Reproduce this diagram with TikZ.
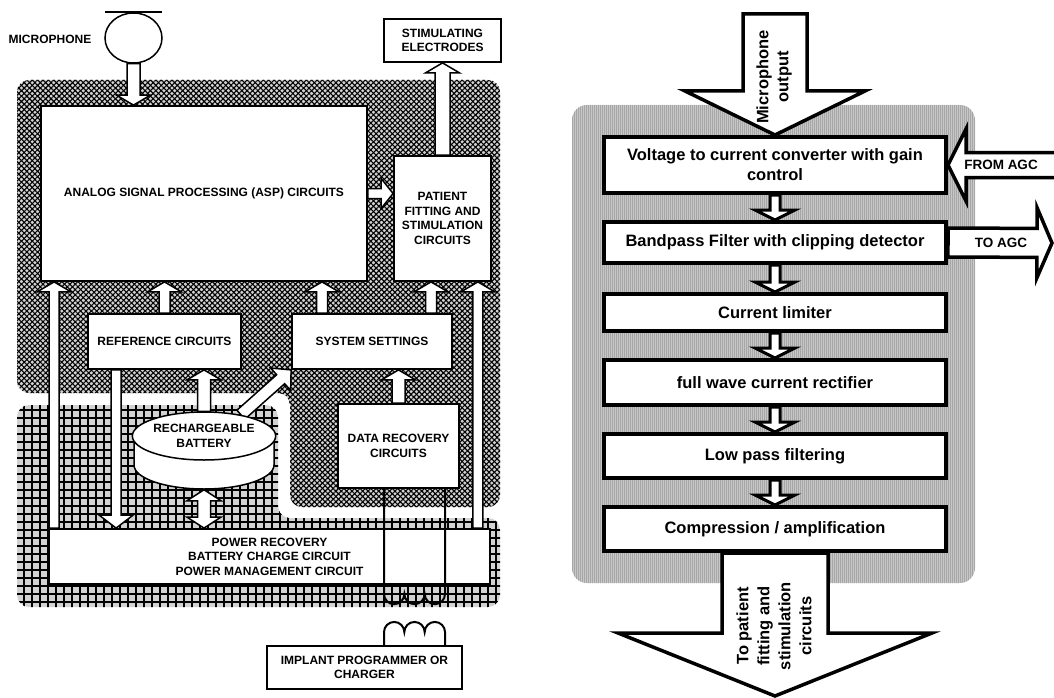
\documentclass[tikz,border=0pt]{standalone}
\usepackage{fontspec}
\setmainfont{Liberation Sans}
\usetikzlibrary{calc,positioning,shapes.geometric,patterns.meta}
\pgfdeclarelayer{back}
\pgfdeclarelayer{mid}
\pgfsetlayers{back,mid,main}

% hollow block arrow: [style]{from}{to}{shaft half width}{head half width}{head length}
\newcommand{\blockarrow}[6][]{%
  \coordinate (hb) at ($(#3)!#6pt!(#2)$);
  \draw[fill=white,#1] ($(#2)!#4pt!90:(#3)$) -- ($(hb)!#4pt!-90:(#2)$) -- ($(hb)!#5pt!-90:(#2)$)
    -- (#3) -- ($(hb)!#5pt!90:(#2)$) -- ($(hb)!#4pt!90:(#2)$) -- ($(#2)!#4pt!-90:(#3)$) -- cycle;
}
% same, with a head at both ends
\newcommand{\dblarrow}[6][]{%
  \coordinate (ha) at ($(#2)!#6pt!(#3)$);
  \coordinate (hb) at ($(#3)!#6pt!(#2)$);
  \draw[fill=white,#1] (#2) -- ($(ha)!#5pt!90:(#3)$) -- ($(ha)!#4pt!90:(#3)$) -- ($(hb)!#4pt!-90:(#2)$)
    -- ($(hb)!#5pt!-90:(#2)$) -- (#3) -- ($(hb)!#5pt!90:(#2)$) -- ($(hb)!#4pt!90:(#2)$)
    -- ($(ha)!#4pt!-90:(#3)$) -- ($(ha)!#5pt!-90:(#3)$) -- cycle;
}

\begin{document}
\begin{tikzpicture}[x=1pt,y=-1pt,
  lfont/.style={font=\bfseries\fontsize{12}{14.5}\selectfont},
  rfont/.style={font=\bfseries\fontsize{16.5}{20}\selectfont},
  lbox/.style={draw,line width=1.8pt,fill=white,inner sep=0pt,align=center,lfont},
  rbox/.style={draw,line width=4pt,fill=white,inner sep=0pt,align=center,minimum width=342pt,rfont},
  larr/.style={line width=1.5pt},
  sarr/.style={line width=3pt},
  rarr/.style={line width=3.5pt},
  hatchzone/.style={fill=gray!35,rounded corners=12pt,
    postaction={pattern={Lines[angle=45,distance=3.8pt,line width=1.1pt]},pattern color=black},
    postaction={pattern={Lines[angle=-45,distance=3.8pt,line width=1.1pt]},pattern color=black}},
  gridzone/.style={fill=gray!35,rounded corners=12pt,
    postaction={pattern={Lines[angle=0,distance=8pt,line width=1.2pt]},pattern color=black},
    postaction={pattern={Lines[angle=90,distance=8pt,line width=1.2pt]},pattern color=black}},
  dotzone/.style={fill=black!22,rounded corners=15pt,
    postaction={pattern={Lines[angle=90,distance=2pt,line width=0.6pt]},pattern color=black!35}}]
\useasboundingbox (0,0) rectangle (1054,698);

% shaded zones
\begin{pgfonlayer}{back}
\path[hatchzone] (17,80) -- (500,80) -- (500,507) -- (290,507) -- (290,393) -- (17,393) -- cycle;
\path[gridzone] (17,405) -- (278,405) -- (278,518) -- (500,518) -- (500,607) -- (17,607) -- cycle;
\path[dotzone] (572,105) rectangle (975,583);
\end{pgfonlayer}

% implant
\node[lfont] (miclabel) at (50,39) {MICROPHONE};
\node[draw,line width=1.5pt,fill=white,ellipse,minimum width=57pt,minimum height=50pt] (mic) at (133.5,38) {};
\draw[line width=1.5pt] ([xshift=-28.5pt]mic.north) -- ([xshift=28.5pt]mic.north);
\node[lbox,minimum width=326pt,minimum height=175pt] (asp) at (204,193.5) {ANALOG SIGNAL PROCESSING (ASP) CIRCUITS};
\node[lbox,minimum width=97pt,minimum height=125pt] (pfit) at (442.5,218.5) {PATIENT\\FITTING AND\\STIMULATION\\CIRCUITS};
\node[lbox,minimum width=117pt,minimum height=43pt] (elec) at (442.5,40.5) {STIMULATING\\ELECTRODES};
\node[lbox,minimum width=153pt,minimum height=55pt] (ref) at (164.5,341.5) {REFERENCE CIRCUITS};
\node[lbox,minimum width=160pt,minimum height=55pt] (sys) at (372,341.5) {SYSTEM SETTINGS};
\node[lbox,minimum width=121pt,minimum height=84pt] (data) at (398.5,446) {DATA RECOVERY\\CIRCUITS};
\node[lbox,minimum width=441pt,minimum height=55pt] (power) at (269.5,556.5) {POWER RECOVERY\\BATTERY CHARGE CIRCUIT\\POWER MANAGEMENT CIRCUIT};
\node[lbox,minimum width=195pt,minimum height=43pt] (prog) at (364.5,667.5) {IMPLANT PROGRAMMER OR\\CHARGER};

% battery
\coordinate (batc) at (204,436);
\draw[line width=1.5pt,fill=white] (batc) ++(-70,0) -- ++(0,29) arc[start angle=180,end angle=0,x radius=70,y radius=24] -- ++(0,-29) -- cycle;
\node[lbox,line width=1.5pt,ellipse,minimum width=140pt,minimum height=48pt] (bat) at (batc) {RECHARGEABLE\\BATTERY};

% free ends of the left connectors
\coordinate (micin) at (mic.south |- asp.north);
\coordinate (aspout) at (asp.east -| pfit.west);
\coordinate (refup) at (ref.north |- asp.south);
\coordinate (s1) at ([xshift=-50pt]sys.north);
\coordinate (s1up) at (s1 |- asp.south);
\coordinate (s2) at ([xshift=59pt]sys.north);
\coordinate (s2up) at (s2 |- pfit.south);
\coordinate (pwl) at ([xshift=6pt]power.north west);
\coordinate (pwlup) at (pwl |- asp.south);
\coordinate (pwr) at ([xshift=-13pt]power.north east);
\coordinate (pwrup) at (pwr |- pfit.south);
\coordinate (rd) at ([xshift=29pt]ref.south west);
\coordinate (rddn) at (rd |- power.north);
\coordinate (batup) at (bat.north |- ref.south);
\coordinate (batb) at ([yshift=-29pt]bat.south);
\coordinate (batdn) at (batb |- power.north);
\coordinate (dataup) at (data.north |- sys.south);

\begin{pgfonlayer}{mid}
\blockarrow[larr]{mic.south}{micin}{6.5}{17}{10}
\blockarrow[larr]{asp.east}{aspout}{5}{15}{12}
\blockarrow[larr]{pfit.north}{elec.south}{7.5}{17}{10}
\blockarrow[larr]{ref.north}{refup}{5.5}{17}{10}
\blockarrow[larr]{s1}{s1up}{5.5}{17}{10}
\blockarrow[larr]{s2}{s2up}{5.5}{17}{10}
\blockarrow[larr]{pwl}{pwlup}{5}{17}{10}
\blockarrow[larr]{pwr}{pwrup}{5}{17}{10}
\blockarrow[larr]{rd}{rddn}{5}{17}{13}
\blockarrow[larr]{bat.north}{batup}{6.5}{17}{10}
\blockarrow[larr]{bat.30}{sys.south west}{6}{15}{14}
\dblarrow[larr]{batb}{batdn}{6.5}{17}{11}
\blockarrow[larr]{data.north}{dataup}{6.5}{17}{10}
\end{pgfonlayer}

% coupling coils
\coordinate (cl) at ([xshift=-14.5pt]data.south);
\coordinate (cr) at ([xshift=46.5pt]data.south);
\coordinate (coilb) at (0,594);
\draw[line width=2pt] (cl) -- (cl |- coilb)
  arc[start angle=180,end angle=0,radius=10.17] arc[start angle=180,end angle=0,radius=10.17]
  arc[start angle=180,end angle=0,radius=10.17] -- (cr);
\coordinate (pl) at (cl |- prog.north);
\coordinate (pr) at (cr |- prog.north);
\draw[line width=2pt] (pl) -- ++(0,-13)
  arc[start angle=180,end angle=360,radius=10.17] arc[start angle=180,end angle=360,radius=10.17]
  arc[start angle=180,end angle=360,radius=10.17] -- (pr);

% ASP channel
\node[rbox,minimum height=56pt] (b1) at (775,165) {Voltage to current converter with gain\\control};
\node[rbox,minimum height=41pt] (b2) at (775,242.5) {Bandpass Filter with clipping detector};
\node[rbox,minimum height=37pt] (b3) at (775,312.5) {Current limiter};
\node[rbox,minimum height=45pt] (b4) at (775,382.5) {full wave current rectifier};
\node[rbox,minimum height=44pt] (b5) at (775,456) {Low pass filtering};
\node[rbox,minimum height=44pt] (b6) at (775,529) {Compression / amplification};

\coordinate (mtop) at (775,14);
\coordinate (bot) at (775,696);
\coordinate (fa) at (1064,165);
\coordinate (ta) at (1052,243);

\begin{pgfonlayer}{mid}
\blockarrow[rarr]{mtop}{b1.north}{32}{90}{44}
\foreach \a/\b in {b1/b2,b2/b3,b3/b4,b4/b5,b5/b6}
  {\blockarrow[sarr]{\a.south}{\b.north}{5}{20}{10}}
\blockarrow[rarr]{b6.south}{bot}{53}{157}{63}
\blockarrow[rarr]{fa}{b1.east}{12.5}{36}{18}
\blockarrow[rarr]{b2.east}{ta}{14.5}{35}{15}
\end{pgfonlayer}

\node[rfont,rotate=90,align=center] (micout) at (774,77) {Microphone\\output};
\node[font=\bfseries\fontsize{16.5}{21}\selectfont,rotate=90,align=center] (topat) at (774,626) {To patient\\fitting and\\stimulation\\circuits};
\node[font=\bfseries\fontsize{13.5}{16}\selectfont] (fromagc) at (1001,165) {FROM AGC};
\node[font=\bfseries\fontsize{13.5}{16}\selectfont] (toagc) at (1001,243) {TO AGC};
\end{tikzpicture}
\end{document}
